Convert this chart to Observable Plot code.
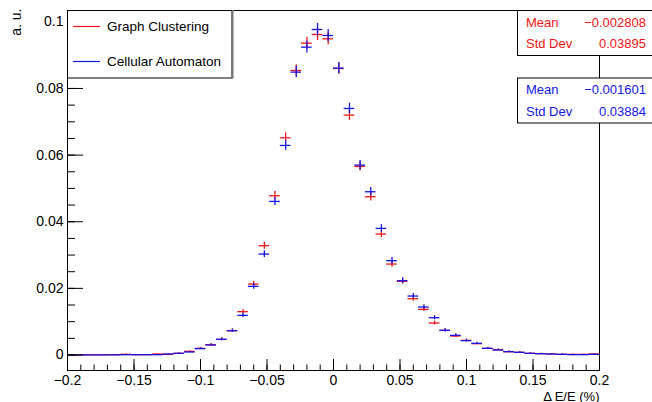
<!DOCTYPE html>
<html>
<head>
<meta charset="utf-8">
<script src="https://cdn.jsdelivr.net/npm/d3@7"></script>
<script src="https://cdn.jsdelivr.net/npm/@observablehq/plot@0.6"></script>
<style>
  html, body { margin: 0; padding: 0; background: #fff; }
  svg { display: block; }
</style>
</head>
<body>
<div id="chart"></div>
<script>
// Relative energy resolution, 50 bins from -0.2 to 0.2 (normalised to unit area)
const binRange = [-0.2, 0.2];
const binCount = 50;

const seriesNames = ["Graph Clustering", "Cellular Automaton"];
const seriesColors = ["#f01414", "#1414e6"];

const graphClustering = [
  0.00003, 0.00003, 0.00005, 0.00005, 0.00008, 0.0002, 0.0001, 0.0001, 0.0003, 0.0002,
  0.0005, 0.0011, 0.0020, 0.0031, 0.0047, 0.0073, 0.0130, 0.0213, 0.0328, 0.0478,
  0.0652, 0.0854, 0.0936, 0.0962, 0.0949, 0.0860, 0.0720, 0.0566, 0.0475, 0.0363,
  0.0273, 0.0221, 0.0169, 0.0137, 0.0096, 0.0074, 0.0057, 0.0044, 0.0034, 0.0020,
  0.0016, 0.0010, 0.0008, 0.0005, 0.0004, 0.0003, 0.0002, 0.0002, 0.0002, 0.0003
];
const cellularAutomaton = [
  0.00003, 0.00003, 0.00004, 0.00005, 0.00006, 0.00008, 0.0001, 0.0001, 0.0001, 0.0003,
  0.0005, 0.0009, 0.0019, 0.0030, 0.0047, 0.0073, 0.0119, 0.0206, 0.0303, 0.0461,
  0.0629, 0.0849, 0.0924, 0.0977, 0.0959, 0.0861, 0.0740, 0.0570, 0.0490, 0.0380,
  0.0283, 0.0223, 0.0177, 0.0144, 0.0112, 0.0074, 0.0059, 0.0043, 0.0035, 0.0020,
  0.0015, 0.0010, 0.0008, 0.0005, 0.0004, 0.0003, 0.0002, 0.0001, 0.0001, 0.0002
];

// Statistics boxes
const statMeans = ["\u22120.002808", "\u22120.001601"];
const statStdDevs = ["0.03895", "0.03884"];

// Axis ticks
const xMajorTicks = [-0.2, -0.15, -0.1, -0.05, 0, 0.05, 0.1, 0.15, 0.2];
const yMajorTicks = [0, 0.02, 0.04, 0.06, 0.08, 0.1];
const yDomain = [-0.00465, 0.1034];
const xTitle = "\u0394 E/E (%)";
const yTitle = "a. u.";

// Statistical error per bin: sigma = k * sqrt(content) for a unit-normalised histogram
const errK = 0.0058;

const binWidth = (binRange[1] - binRange[0]) / binCount;
const xMinorTicks = d3.range(0, 41).map(i => +(binRange[0] + i * 0.01).toFixed(3));
const yMinorTicks = d3.range(0, 21).map(i => +(i * 0.005).toFixed(4));

function rows(values, series) {
  return values.map((v, i) => {
    const lo = binRange[0] + i * binWidth;
    const err = errK * Math.sqrt(v);
    return {series, lo, hi: lo + binWidth, mid: lo + binWidth / 2, v, vlo: v - err, vhi: v + err};
  });
}
const data = [
  ...rows(graphClustering, seriesNames[0]),
  ...rows(cellularAutomaton, seriesNames[1])
];

const fmt = d => d === 0 ? "0" : d3.format("~g")(d).replace("-", "\u2212");
const font = "'Liberation Sans', Arial, Helvetica, sans-serif";

const chart = Plot.plot({
  width: 652,
  height: 402,
  marginLeft: 67,
  marginRight: 53,
  marginTop: 10,
  marginBottom: 32,
  style: {fontFamily: font, fontSize: "14px", background: "#fff", color: "#000"},
  x: {domain: binRange, label: null},
  y: {domain: yDomain, label: null},
  color: {domain: seriesNames, range: seriesColors},
  marks: [
    // horizontal bin-width bars and vertical error bars
    Plot.ruleY(data, {x1: "lo", x2: "hi", y: "v", stroke: "series", strokeWidth: 1.3}),
    Plot.ruleX(data, {x: "mid", y1: "vlo", y2: "vhi", stroke: "series", strokeWidth: 1.3}),
    Plot.frame({stroke: "#000"}),
    Plot.axisX(xMinorTicks, {tickSize: -5.5, text: null, label: null}),
    Plot.axisX(xMajorTicks, {tickSize: -11, text: null, label: null}),
    Plot.axisX(xMajorTicks, {tickSize: 0, tickPadding: 5, tickFormat: fmt, label: null, fontSize: 14}),
    Plot.axisY(yMinorTicks, {tickSize: -8, text: null, label: null}),
    Plot.axisY(yMajorTicks, {tickSize: -16, text: null, label: null}),
    Plot.axisY(yMajorTicks, {tickSize: 0, tickPadding: 4, tickFormat: fmt, label: null, fontSize: 14}),
    Plot.text([xTitle], {frameAnchor: "bottom-right", text: d => d, textAnchor: "end", lineAnchor: "bottom", dy: 30, fontSize: 13}),
    Plot.text([yTitle], {frameAnchor: "top-left", text: d => d, rotate: -90, textAnchor: "end", lineAnchor: "middle", dx: -51, dy: -2, fontSize: 14})
  ]
});

document.getElementById("chart").appendChild(chart);

// Legend and statistics panels
const svg = d3.select(chart);
const overlay = svg.append("g")
  .attr("font-family", font)
  .attr("font-size", 13)
  .attr("text-anchor", "start");

const legend = overlay.append("g");
legend.append("rect")
  .attr("x", 67.5).attr("y", 10.5).attr("width", 164.5).attr("height", 67.5)
  .attr("fill", "#fff").attr("stroke", "#000");
legend.append("line")
  .attr("x1", 232.5).attr("x2", 232.5).attr("y1", 10).attr("y2", 78.5)
  .attr("stroke", "#777").attr("stroke-width", 2);
seriesNames.forEach((name, i) => {
  const y = i === 0 ? 26.5 : 61.5;
  legend.append("line")
    .attr("x1", 73).attr("x2", 100).attr("y1", y).attr("y2", y)
    .attr("stroke", seriesColors[i]).attr("stroke-width", 1.2);
  legend.append("text")
    .attr("x", 107).attr("y", y + 4.5).attr("fill", "#000")
    .attr("font-size", 13.5).attr("text-anchor", "start").text(name);
});

seriesNames.forEach((name, i) => {
  const top = i === 0 ? 10.5 : 78;
  const g = overlay.append("g").attr("fill", seriesColors[i]);
  g.append("rect")
    .attr("x", 517.5).attr("y", top).attr("width", 140).attr("height", 45)
    .attr("fill", "#fff").attr("stroke", "#000");
  g.append("text").attr("x", 526).attr("y", top + 16.3).attr("text-anchor", "start").text("Mean");
  g.append("text").attr("x", 646).attr("y", top + 16.3).attr("text-anchor", "end").text(statMeans[i]);
  g.append("text").attr("x", 526).attr("y", top + 37.5).attr("text-anchor", "start").text("Std Dev");
  g.append("text").attr("x", 646).attr("y", top + 37.5).attr("text-anchor", "end").text(statStdDevs[i]);
});
</script>
</body>
</html>
